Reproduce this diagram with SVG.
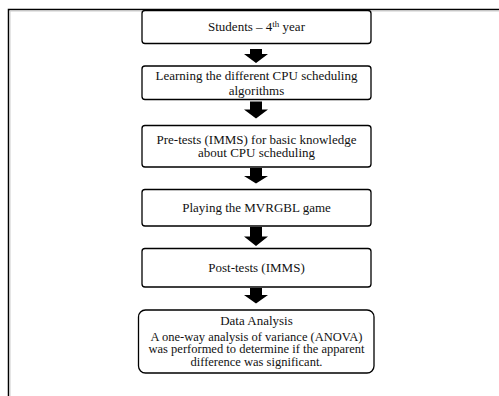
<svg xmlns="http://www.w3.org/2000/svg" width="499" height="396" viewBox="0 0 499 396">
<style>
.box{fill:#fff;stroke:#000;stroke-width:1.3}
.t{font-family:"Liberation Serif","Times New Roman",serif;font-size:13px;fill:#111;text-anchor:middle}
.s{font-size:12.5px}
.arr{fill:#000}
</style>
<rect x="0" y="0" width="499" height="396" fill="#fff"/>
<g id="frame">
<path d="M8.5,396 V9.5 H499" fill="none" stroke="#000" stroke-width="1.5"/>
<path d="M10,396 V11 H499" fill="none" stroke="#ccc" stroke-width="1"/>
</g>
<g id="connectors">
<polygon class="arr" points="250,49 262,49 262,54 268,54 256,63 244,54 250,54"/>
<polygon class="arr" points="250,101.5 262,101.5 262,109.5 268,109.5 256,118.5 244,109.5 250,109.5"/>
<polygon class="arr" points="250,168 262,168 262,176 268,176 256,183.5 244,176 250,176"/>
<polygon class="arr" points="250,227 262,227 262,236.5 268,236.5 256,246 244,236.5 250,236.5"/>
<polygon class="arr" points="250,288 262,288 262,295 268,295 256,303.5 244,295 250,295"/>
</g>
<g id="n1">
<rect class="box" x="142" y="10.5" width="229" height="33" rx="3"/>
<text class="t" x="256.5" y="31">Students – 4<tspan font-size="9" dy="-4">th</tspan><tspan dy="4"> year</tspan></text>
</g>
<g id="n2">
<rect class="box" x="142" y="66" width="229" height="33.5" rx="3"/>
<text class="t" x="256.5" y="79.5">Learning the different CPU scheduling</text>
<text class="t" x="256.5" y="94.5">algorithms</text>
</g>
<g id="n3">
<rect class="box" x="142" y="125.5" width="229" height="41.5" rx="3"/>
<text class="t" x="256.5" y="143.5">Pre-tests (IMMS)  for basic knowledge</text>
<text class="t" x="256.5" y="157">about CPU scheduling</text>
</g>
<g id="n4">
<rect class="box" x="142" y="189.5" width="229" height="36.5" rx="3"/>
<text class="t" x="256.5" y="211.5">Playing the MVRGBL game</text>
</g>
<g id="n5">
<rect class="box" x="142" y="248.5" width="229" height="38.5" rx="3"/>
<text class="t" x="256.5" y="272">Post-tests (IMMS)</text>
</g>
<g id="n6">
<rect class="box" x="138.5" y="310" width="235.5" height="63" rx="7"/>
<text class="t" x="256.5" y="324.5">Data Analysis</text>
<text class="t s" x="256.5" y="340.5">A one-way analysis of variance (ANOVA)</text>
<text class="t s" x="256.5" y="353">was performed to determine if the apparent</text>
<text class="t s" x="256.5" y="365.5">difference was significant.</text>
</g>
</svg>
